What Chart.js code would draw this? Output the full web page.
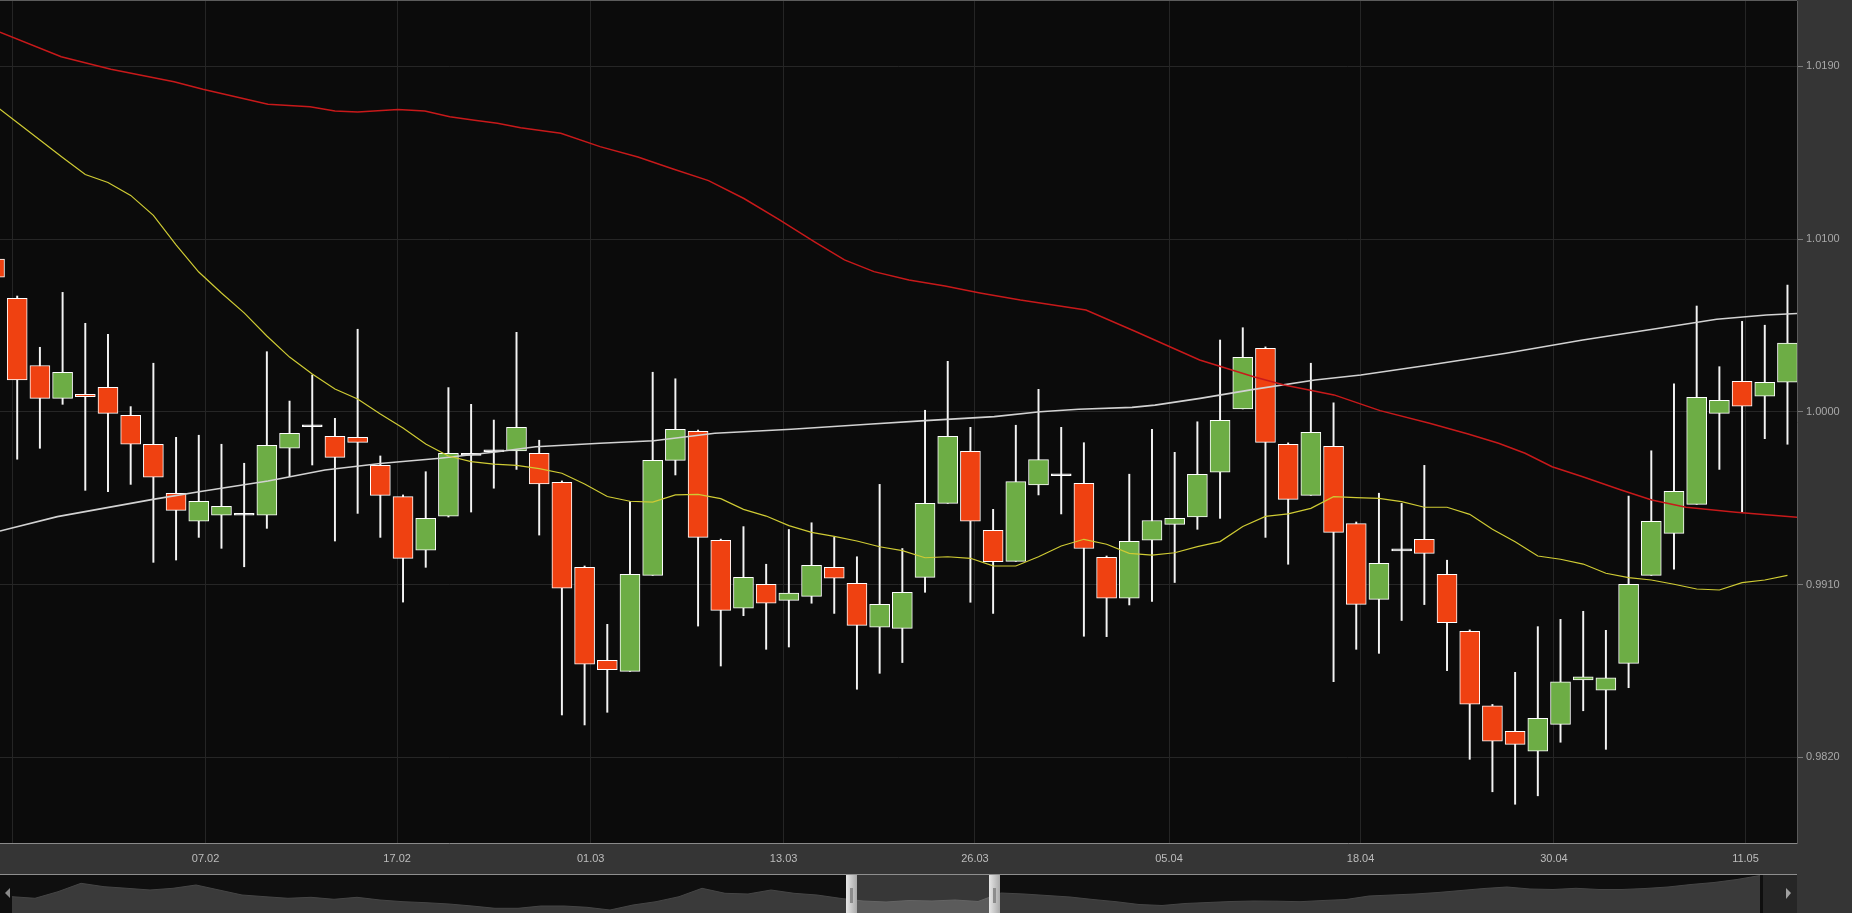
<!DOCTYPE html>
<html><head><meta charset="utf-8">
<script src="https://cdn.jsdelivr.net/npm/chart.js@4.4.1/dist/chart.umd.min.js"></script>
<style>
html,body{margin:0;padding:0;background:#353535;overflow:hidden;}
#wrap{position:relative;width:1852px;height:913px;}
#main{position:absolute;left:0;top:0;}
#nav{position:absolute;left:0;top:874px;}
</style></head><body>
<div id="wrap"><canvas id="main" width="1852" height="913"></canvas><canvas id="nav" width="1797" height="39"></canvas></div>
<script>
// ---------- DATA ----------
const firstIndex = -1; // first (partly hidden) candle
const opens = [1.00796,1.00591,1.00241,1.00070,1.00091,1.00128,0.99982,0.99831,0.99576,0.99430,
0.99461,0.99461,0.99461,0.99810,0.99922,0.99872,0.99867,0.99721,0.99558,0.99280,
0.99456,0.99773,0.99792,0.99796,0.99784,0.99633,0.99190,0.98706,0.98648,0.99148,
0.99747,0.99898,0.99331,0.98977,0.99102,0.99018,0.99039,0.99190,0.99107,0.98878,
0.98872,0.99138,0.99523,0.99794,0.99383,0.99221,0.99619,0.99667,0.99628,0.99242,
0.99029,0.99332,0.99414,0.99452,0.99685,1.00015,1.00331,0.99831,0.99565,0.99820,
0.99418,0.99023,0.99276,0.99336,0.99154,0.98857,0.98469,0.98336,0.98233,0.98372,
0.98603,0.98550,0.98690,0.99148,0.99367,0.99518,0.99992,1.00159,1.00081,1.00154];
const highs = [1.00817,1.00603,1.00336,1.00622,1.00461,1.00404,1.00027,1.00253,0.99867,0.99878,
0.99831,0.99732,1.00313,1.00056,1.00192,0.99966,1.00430,0.99770,0.99567,0.99688,
1.00126,1.00039,0.99957,1.00414,0.99852,0.99640,0.99197,0.98893,0.99532,1.00206,
1.00172,0.99905,0.99337,0.99402,0.99206,0.99387,0.99422,0.99346,0.99245,0.99622,
0.99288,1.00008,1.00263,0.99919,0.99492,0.99930,1.00117,0.99919,0.99839,0.99249,
0.99675,0.99909,0.99789,0.99948,1.00374,1.00438,1.00338,0.99838,1.00253,1.00047,
0.99426,0.99576,0.99523,0.99721,0.99227,0.98864,0.98476,0.98643,0.98881,0.98919,
0.98961,0.98862,0.99561,0.99797,1.00146,1.00551,1.00235,1.00471,1.00451,1.00660];
const lows = [1.00660,0.99753,0.99810,1.00039,0.99591,0.99584,0.99622,0.99216,0.99228,0.99346,
0.99289,0.99193,0.99393,0.99662,0.99723,0.99327,0.99471,0.99346,0.99009,0.99190,
0.99452,0.99478,0.99602,0.99700,0.99358,0.98421,0.98369,0.98435,0.98648,0.99148,
0.99671,0.98884,0.98676,0.98938,0.98763,0.98775,0.99003,0.98950,0.98555,0.98638,
0.98694,0.99060,0.99523,0.99008,0.98950,0.99221,0.99567,0.99468,0.98831,0.98829,
0.98994,0.99013,0.99111,0.99388,0.99445,1.00015,0.99346,0.99206,0.99565,0.98595,
0.98763,0.98742,0.98913,0.98996,0.98652,0.98190,0.98021,0.97956,0.98000,0.98279,
0.98443,0.98242,0.98563,0.99148,0.99180,0.99518,0.99700,0.99478,0.99860,0.99831];
const closes = [1.00701,1.00166,1.00070,1.00206,1.00079,0.99992,0.99831,0.99659,0.99487,0.99534,
0.99508,0.99461,0.99826,0.99888,0.99922,0.99763,0.99841,0.99565,0.99237,0.99445,
0.99784,0.99773,0.99792,0.99919,0.99624,0.99082,0.98686,0.98657,0.99154,0.99747,
0.99909,0.99346,0.98966,0.99138,0.99003,0.99056,0.99201,0.99133,0.98888,0.98997,
0.99060,0.99523,0.99872,0.99430,0.99220,0.99636,0.99751,0.99667,0.99288,0.99029,
0.99326,0.99434,0.99445,0.99675,0.99956,1.00284,0.99841,0.99544,0.99893,0.99372,
0.98997,0.99211,0.99276,0.99263,0.98902,0.98477,0.98284,0.98268,0.98404,0.98594,
0.98620,0.98615,0.99102,0.99430,0.99586,1.00076,1.00060,1.00029,1.00154,1.00358];

// short moving average (yellow), one value per candle
const maShort = [1.01598,1.01507,1.01416,1.01325,1.01236,1.01194,1.01127,1.01023,1.00869,1.00728,
1.00619,1.00515,1.00395,1.00285,1.00197,1.00119,1.00067,0.99989,0.99916,0.99832,
0.99770,0.99741,0.99728,0.99721,0.99704,0.99680,0.99624,0.99559,0.99534,0.99530,
0.99567,0.99570,0.99548,0.99492,0.99457,0.99407,0.99372,0.99351,0.99327,0.99297,
0.99277,0.99240,0.99245,0.99237,0.99198,0.99197,0.99245,0.99301,0.99336,0.99310,
0.99263,0.99254,0.99266,0.99298,0.99324,0.99403,0.99455,0.99468,0.99497,0.99558,
0.99553,0.99549,0.99532,0.99503,0.99503,0.99466,0.99388,0.99323,0.99249,0.99232,
0.99207,0.99159,0.99136,0.99124,0.99102,0.99077,0.99072,0.99110,0.99124,0.99148];

// medium moving average (red), sampled along the candle index
const maMidX = [-0.76,1.94,4.13,6.91,8.18,11.05,12.9,14.0,15.0,16.78,17.96,19.06,20.15,21.16,22.18,23.95,25.68,
27.35,28.9,30.46,32.02,33.59,35.15,36.45,37.75,39.29,40.88,42.42,44.2,47.09,49.3,52.1,54.48,55.82,58.02,
60.05,62.23,63.93,65.27,66.44,67.63,68.98,70.67,72.02,73.53,75.73,78.55];
const maMidY = [1.01977,1.01849,1.01784,1.01719,1.01680,1.01602,1.01589,1.01567,1.01561,1.01575,1.01567,1.01537,1.01518,1.01503,1.01480,1.01451,1.01381,
1.01327,1.01265,1.01204,1.01111,1.01000,1.00884,1.00791,1.00730,1.00686,1.00655,1.00619,1.00582,1.00530,1.00417,1.00270,1.00183,1.00140,1.00088,
1.00006,0.99940,0.99884,0.99836,0.99784,0.99714,0.99662,0.99593,0.99541,0.99503,0.99477,0.99450];

// long moving average (white)
const maLongX = [-0.76,1.77,5.98,8.01,11.05,13.56,16.1,18.63,21.16,22.85,25.68,28.04,30.74,34.11,37.49,40.01,43.05,
45.07,46.76,49.12,50.13,52.12,54.48,57.18,59.2,62.23,65.6,68.98,72.34,74.88,77.07,78.55];
const maLongY = [0.99379,0.99454,0.99544,0.99584,0.99640,0.99697,0.99732,0.99758,0.99792,0.99818,0.99836,0.99849,0.99888,0.99909,0.99935,0.99954,0.99975,
1.00000,1.00013,1.00023,1.00035,1.00070,1.00117,1.00166,1.00192,1.00244,1.00305,1.00374,1.00435,1.00482,1.00504,1.00513];

// axes
const yTickValues = [0.9820, 0.9910, 1.0000, 1.0090, 1.0180];
const yTickLabels = ['0.9820', '0.9910', '1.0000', '1.0100', '1.0190'];
const xTickPos = [-0.2, 8.3, 16.74, 25.27, 33.77, 42.2, 50.75, 59.19, 67.71, 76.15];
const xTickLabels = ['', '07.02', '17.02', '01.03', '13.03', '26.03', '05.04', '18.04', '30.04', '11.05'];

// navigator (whole history overview)
const navValues = [0.9815,0.9735,1.0065,1.0485,1.0315,1.0235,1.015,1.0235,1.04,1.015,
0.99,0.9815,0.9735,0.9785,0.9685,0.9785,0.965,0.9565,0.9515,0.945,
0.935,0.9235,0.9235,0.935,0.935,0.9285,0.915,0.94,0.9565,0.9815,
1.0235,0.9985,0.995,1.015,0.9985,0.99,0.9735,0.96,0.955,0.9625,
0.96,0.965,0.9575,1.0,0.995,0.9875,0.98,0.9675,0.9565,0.9425,
0.9375,0.9475,0.9525,0.9575,0.96,0.959,0.9565,0.9625,0.9675,0.985,
0.99,0.995,1.0025,1.0125,1.0225,1.03,1.02,1.0175,1.0235,1.0175,
1.0175,1.0225,1.03,1.0425,1.0525,1.0675,1.0875];

// ---------- STYLE ----------
const RED = '#ef4111', GREEN = '#6dad45';
Chart.defaults.font.family = '"Liberation Sans", Arial, sans-serif';
Chart.defaults.font.size = 11;

const idx = opens.map((_, k) => k + firstIndex);
const bodyData = idx.map((x, k) => ({x, y: [opens[k], closes[k]]}));
const wickData = idx.map((x, k) => ({x, y: [lows[k], highs[k]]}));
const bodyColors = idx.map((x, k) => closes[k] > opens[k] ? GREEN : (closes[k] < opens[k] ? RED : '#ffffff'));

const bgPlugin = {
  id: 'bg',
  beforeDraw(chart) {
    const {ctx, chartArea: a} = chart;
    ctx.save();
    ctx.fillStyle = '#353535';
    ctx.fillRect(0, 0, chart.width, chart.height);
    ctx.fillStyle = '#0b0b0b';
    ctx.fillRect(a.left, a.top, a.right - a.left, a.bottom - a.top);
    ctx.restore();
  },
  afterDraw(chart) {
    const {ctx, chartArea: a} = chart;
    ctx.save();
    ctx.fillStyle = '#5c5c5c';
    ctx.fillRect(a.left, 0, a.right - a.left, 1);
    ctx.restore();
  }
};

new Chart(document.getElementById('main'), {
  type: 'bar',
  data: {
    datasets: [
      {type: 'line', data: idx.map((x, k) => ({x, y: maShort[k]})), borderColor: '#cfcb34', borderWidth: 1.2, pointRadius: 0, tension: 0, order: 0},
      {type: 'line', data: maMidX.map((x, k) => ({x, y: maMidY[k]})), borderColor: '#c8191a', borderWidth: 1.5, pointRadius: 0, tension: 0, order: 0},
      {type: 'line', data: maLongX.map((x, k) => ({x, y: maLongY[k]})), borderColor: '#d2d2d2', borderWidth: 1.6, pointRadius: 0, tension: 0, order: 0},
      {type: 'bar', data: bodyData, backgroundColor: bodyColors, borderColor: '#ffffff', borderWidth: 1, borderSkipped: false,
        barThickness: 20, grouped: false, minBarLength: 2, order: 1},
      {type: 'bar', data: wickData, backgroundColor: '#f4f4f4', borderWidth: 0, barThickness: 1.3, grouped: false, order: 2}
    ]
  },
  options: {
    responsive: false, animation: false, devicePixelRatio: 1,
    layout: {padding: {top: 1, left: 0, right: 0, bottom: 0}},
    plugins: {legend: {display: false}, tooltip: {enabled: false}},
    scales: {
      x: {
        type: 'linear', position: 'bottom', min: -0.758, max: 78.42, offset: false,
        afterBuildTicks: (s) => { s.ticks = xTickPos.map(v => ({value: v})); },
        afterFit: (s) => { s.height = 70; s.paddingLeft = 0; s.paddingRight = 0; },
        ticks: {autoSkip: false, maxRotation: 0, padding: 9, color: '#bdbdbd', callback: (v, i) => xTickLabels[i]},
        grid: {color: '#252525', lineWidth: 1, drawTicks: false, offset: false},
        border: {color: '#8a8a8a', width: 1}
      },
      y: {
        type: 'linear', position: 'right', min: 0.977542, max: 1.021396,
        afterBuildTicks: (s) => { s.ticks = yTickValues.map(v => ({value: v})); },
        afterFit: (s) => { s.width = 55; s.paddingTop = 0; s.paddingBottom = 0; },
        ticks: {padding: 3, color: '#a8a8a8', callback: (v, i) => yTickLabels[i]},
        grid: {color: '#262626', lineWidth: 1, drawTicks: true, tickLength: 6, tickColor: '#7a7a7a'},
        border: {color: '#5a5a5a', width: 1}
      }
    }
  },
  plugins: [bgPlugin]
});

// ---------- NAVIGATOR ----------
const navPlugin = {
  id: 'navchrome',
  beforeDraw(chart) {
    const ctx = chart.ctx;
    ctx.save();
    ctx.fillStyle = '#0f0f0f';
    ctx.fillRect(0, 0, chart.width, chart.height);
    ctx.fillStyle = '#262626';
    ctx.fillRect(1763, 0, chart.width - 1763, chart.height);
    ctx.restore();
  },
  afterDraw(chart) {
    const ctx = chart.ctx;
    ctx.save();
    ctx.fillStyle = 'rgba(255,255,255,0.17)';
    ctx.fillRect(857, 1, 132, 38);
    [846, 989].forEach(hx => {
      const g = ctx.createLinearGradient(hx, 0, hx + 11, 0);
      g.addColorStop(0, '#e6e6e6'); g.addColorStop(1, '#a9a9a9');
      ctx.fillStyle = g;
      ctx.fillRect(hx, 0, 11, 39);
      ctx.fillStyle = '#8c8c8c';
      ctx.fillRect(hx + 4, 14, 3, 15);
    });
    ctx.fillStyle = '#8e8e8e';
    ctx.fillRect(0, 0, chart.width, 1);
    ctx.fillStyle = '#8a8a8a';
    ctx.beginPath(); ctx.moveTo(5, 19); ctx.lineTo(10, 14); ctx.lineTo(10, 24); ctx.closePath(); ctx.fill();
    ctx.fillStyle = '#a0a0a0';
    ctx.beginPath(); ctx.moveTo(1791, 19); ctx.lineTo(1786, 14); ctx.lineTo(1786, 25); ctx.closePath(); ctx.fill();
    ctx.restore();
  }
};

new Chart(document.getElementById('nav'), {
  type: 'line',
  data: {datasets: [{data: navValues.map((v, k) => ({x: k, y: v})), fill: 'start', backgroundColor: '#3a3a3a',
    borderColor: '#454545', borderWidth: 1, pointRadius: 0, tension: 0}]},
  options: {
    responsive: false, animation: false, devicePixelRatio: 1,
    layout: {padding: {left: 12, right: 34, top: 1, bottom: 0}},
    plugins: {legend: {display: false}, tooltip: {enabled: false}},
    scales: {
      x: {type: 'linear', display: false, min: 0, max: 76.13},
      y: {type: 'linear', display: false, min: 0.90, max: 1.09}
    }
  },
  plugins: [navPlugin]
});
</script>
</body></html>
